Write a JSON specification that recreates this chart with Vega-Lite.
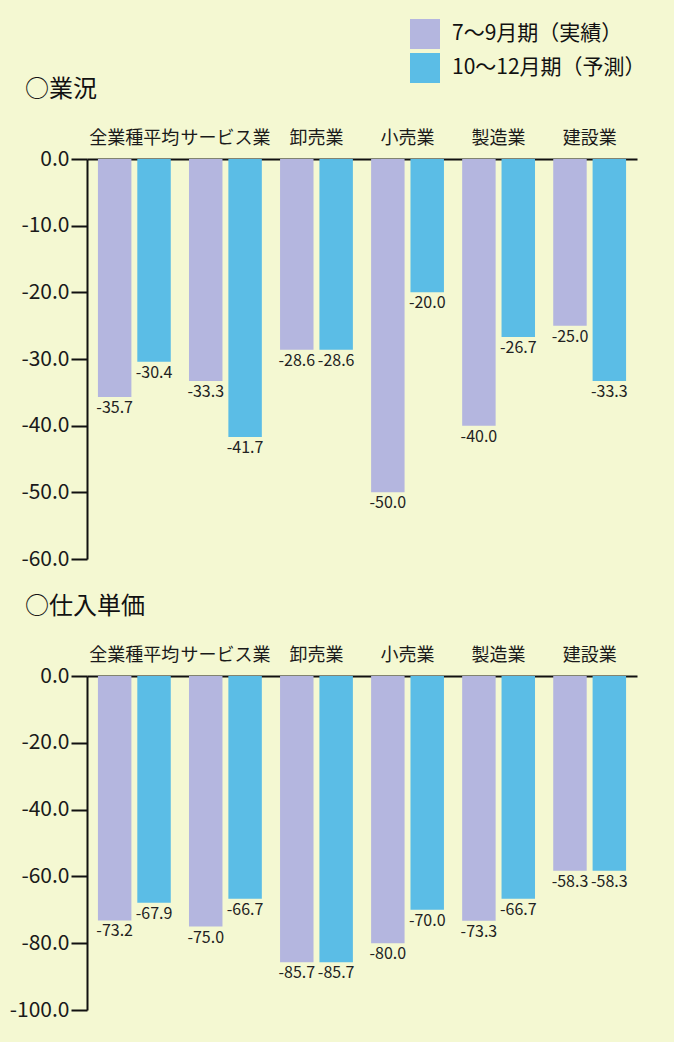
{
  "$schema": "https://vega.github.io/schema/vega-lite/v6.json",
  "background": "#f4f8d2",
  "padding": {"left": 9, "top": 19, "right": 30, "bottom": 22},
  "config": {
    "font": "Noto Sans CJK JP",
    "locale": {"number": {"decimal": ".", "thousands": ",", "grouping": [3], "currency": ["", ""], "minus": "-"}},
    "view": {"stroke": null},
    "axis": {"labelColor": "#1a1a1a", "domainColor": "#111111", "tickColor": "#111111", "domainWidth": 2, "tickWidth": 2},
    "title": {"color": "#111111", "fontWeight": "normal"},
    "legend": {"orient": "none", "legendX": 323, "legendY": -140, "title": null, "symbolType": "square", "symbolSize": 900, "symbolStrokeWidth": 0, "symbolOpacity": 1, "labelFontSize": 21, "labelColor": "#111111", "rowPadding": 4, "labelOffset": 12, "labelLimit": 400}
  },
  "datasets": {
    "gyokyo": [
      {"category": "全業種平均", "period": "7～9月期（実績）", "value": -35.7},
      {"category": "全業種平均", "period": "10～12月期（予測）", "value": -30.4},
      {"category": "サービス業", "period": "7～9月期（実績）", "value": -33.3},
      {"category": "サービス業", "period": "10～12月期（予測）", "value": -41.7},
      {"category": "卸売業", "period": "7～9月期（実績）", "value": -28.6},
      {"category": "卸売業", "period": "10～12月期（予測）", "value": -28.6},
      {"category": "小売業", "period": "7～9月期（実績）", "value": -50.0},
      {"category": "小売業", "period": "10～12月期（予測）", "value": -20.0},
      {"category": "製造業", "period": "7～9月期（実績）", "value": -40.0},
      {"category": "製造業", "period": "10～12月期（予測）", "value": -26.7},
      {"category": "建設業", "period": "7～9月期（実績）", "value": -25.0},
      {"category": "建設業", "period": "10～12月期（予測）", "value": -33.3}
    ],
    "shiire": [
      {"category": "全業種平均", "period": "7～9月期（実績）", "value": -73.2},
      {"category": "全業種平均", "period": "10～12月期（予測）", "value": -67.9},
      {"category": "サービス業", "period": "7～9月期（実績）", "value": -75.0},
      {"category": "サービス業", "period": "10～12月期（予測）", "value": -66.7},
      {"category": "卸売業", "period": "7～9月期（実績）", "value": -85.7},
      {"category": "卸売業", "period": "10～12月期（予測）", "value": -85.7},
      {"category": "小売業", "period": "7～9月期（実績）", "value": -80.0},
      {"category": "小売業", "period": "10～12月期（予測）", "value": -70.0},
      {"category": "製造業", "period": "7～9月期（実績）", "value": -73.3},
      {"category": "製造業", "period": "10～12月期（予測）", "value": -66.7},
      {"category": "建設業", "period": "7～9月期（実績）", "value": -58.3},
      {"category": "建設業", "period": "10～12月期（予測）", "value": -58.3}
    ]
  },
  "spacing": 26,
  "vconcat": [
    {
      "title": {"text": "○業況", "anchor": "start", "frame": "group", "dx": -62, "fontSize": 24, "offset": 27},
      "width": 550,
      "height": 400,
      "data": {"name": "gyokyo"},
      "encoding": {
        "x": {"field": "category", "type": "nominal", "sort": ["全業種平均", "サービス業", "卸売業", "小売業", "製造業", "建設業"],
          "scale": {"paddingInner": 0.2, "paddingOuter": 0.12},
          "axis": {"orient": "top", "title": null, "labelAngle": 0, "ticks": false, "labelFontSize": 18, "labelPadding": 12}},
        "xOffset": {"field": "period", "type": "nominal", "sort": ["7～9月期（実績）", "10～12月期（予測）"], "scale": {"paddingInner": 0.15, "paddingOuter": 0}},
        "y": {"field": "value", "type": "quantitative", "scale": {"domain": [-60, 0], "nice": false},
          "axis": {"values": [0, -10, -20, -30, -40, -50, -60], "format": ".1f", "title": null, "grid": false, "tickSize": 16, "labelPadding": 2, "labelFontSize": 21}}
      },
      "layer": [
        {"mark": {"type": "bar"},
          "encoding": {"color": {"field": "period", "type": "nominal", "sort": ["7～9月期（実績）", "10～12月期（予測）"],
            "scale": {"domain": ["7～9月期（実績）", "10～12月期（予測）"], "range": ["#b4b6df", "#5bbde6"]}}}},
        {"mark": {"type": "text", "baseline": "top", "dy": 3, "fontSize": 16, "color": "#222222"},
          "encoding": {"text": {"field": "value", "type": "quantitative", "format": ".1f"}}}
      ]
    },
    {
      "title": {"text": "○仕入単価", "anchor": "start", "frame": "group", "dx": -62, "fontSize": 24, "offset": 27},
      "width": 550,
      "height": 334,
      "data": {"name": "shiire"},
      "encoding": {
        "x": {"field": "category", "type": "nominal", "sort": ["全業種平均", "サービス業", "卸売業", "小売業", "製造業", "建設業"],
          "scale": {"paddingInner": 0.2, "paddingOuter": 0.12},
          "axis": {"orient": "top", "title": null, "labelAngle": 0, "ticks": false, "labelFontSize": 18, "labelPadding": 12}},
        "xOffset": {"field": "period", "type": "nominal", "sort": ["7～9月期（実績）", "10～12月期（予測）"], "scale": {"paddingInner": 0.15, "paddingOuter": 0}},
        "y": {"field": "value", "type": "quantitative", "scale": {"domain": [-100, 0], "nice": false},
          "axis": {"values": [0, -20, -40, -60, -80, -100], "format": ".1f", "title": null, "grid": false, "tickSize": 16, "labelPadding": 2, "labelFontSize": 21}}
      },
      "layer": [
        {"mark": {"type": "bar"},
          "encoding": {"color": {"field": "period", "type": "nominal", "sort": ["7～9月期（実績）", "10～12月期（予測）"],
            "scale": {"domain": ["7～9月期（実績）", "10～12月期（予測）"], "range": ["#b4b6df", "#5bbde6"]}}}},
        {"mark": {"type": "text", "baseline": "top", "dy": 3, "fontSize": 16, "color": "#222222"},
          "encoding": {"text": {"field": "value", "type": "quantitative", "format": ".1f"}}}
      ]
    }
  ]
}
